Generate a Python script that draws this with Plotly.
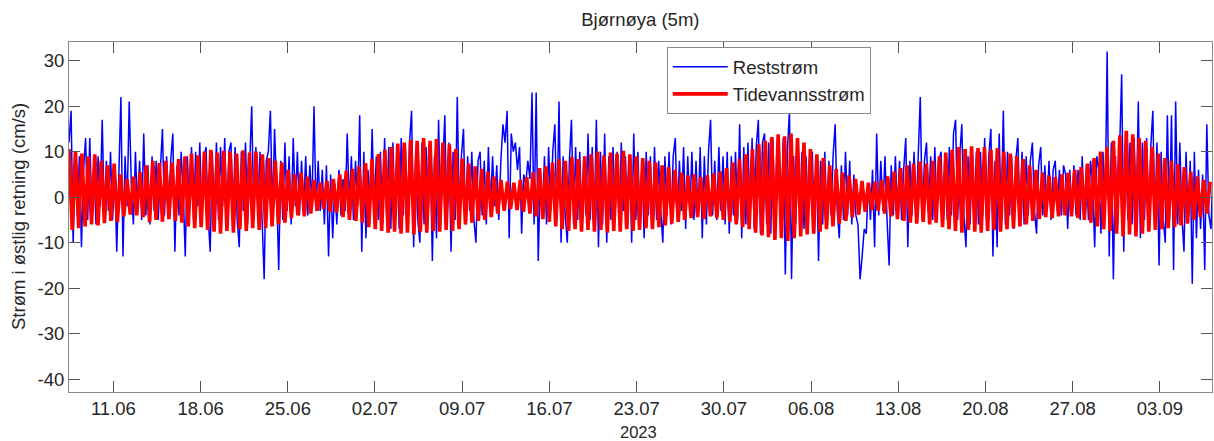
import pandas as pd
import plotly.graph_objects as go

title_text = "Bjørnøya (5m)"
y_label = "Strøm i østlig retning (cm/s)"
series_names = ["Reststrøm", "Tidevannsstrøm"]
year_label = "2023"

start_time = pd.Timestamp("2023-06-07 10:30")
end_time = pd.Timestamp("2023-09-07 04:30")
rest_step_hours = 4
tide_half_period_hours = 6.21

# Residual current (cm/s), 4-hourly samples (one row = one day)
rest_values = [
    12, 19, -10, 8, -4, 9,
    -11, 6, 13, -5, 13, -3,
    7, -6, 9, -2, 17, -4,
    8, -3, 10, -5, 6, -12,
    5, 22, -13, 9, -2, 21,
    3, -6, 10, -3, 8, -5,
    14, -4, 7, -6, 9, -3,
    8, -5, 6, 15, -4, 9,
    -2, 8, 14, -12, 7, -4,
    10, 1, -13, 9, -3, 11,
    -5, 10, -2, 12, -6, 9,
    11, -4, -12, 10, -3, 12,
    -5, 11, -2, 13, -6, 10,
    12, -4, 11, -5, -11, 10,
    -3, 12, -6, 9, 20, -4,
    11, -3, 10, -5, -18, 8,
    10, 19, -4, 15, 2, -16,
    8, -5, 12, -3, 9, -6,
    13, -2, 10, -4, 8, -3,
    9, -4, 7, -2, 20, -3,
    8, -3, 6, -6, 7, -13,
    5, -9, 3, -6, 6, -4,
    4, -3, 14, -2, 9, -5,
    8, -2, 18, -12, 10, -9,
    6, -4, 15, -3, 9, -5,
    10, -6, 13, -4, 11, -7,
    12, -5, 10, -7, 13, -4,
    11, -6, 12, 19, -11, 10,
    -5, -10, 12, -6, 11, -4,
    10, -14, 9, -9, 17, -5,
    8, 18, -6, 12, -12, 10,
    -5, 22, -4, 9, 15, -6,
    9, -3, 10, -5, -10, 8,
    10, -4, 8, -6, 11, -3,
    9, -2, 7, -5, 8, 16,
    12, 19, -9, 14, 10, 12,
    6, 11, -8, 5, 3, 8,
    4, 23, -6, 23, -14, 5,
    -4, 9, -6, 11, -3, 10,
    16, -5, 21, -10, 9, -4,
    -10, 8, 17, -6, 11, -5,
    10, -6, 9, -4, 14, -5,
    11, -4, 17, -11, 10, -6,
    14, -10, 9, -5, 11, -4,
    10, -6, 12, -3, 9, -7,
    9, -10, 14, -5, 10, -6,
    8, -9, 10, -4, 9, -6,
    11, -5, 8, -3, -10, 9,
    -4, 10, -6, 9, 13, -5,
    8, -3, 11, -7, 9, -4,
    10, -5, 8, -4, 11, -9,
    9, -6, 10, 17, -4, 8,
    -5, 11, -3, 9, -6, 10,
    -8, 9, -4, 10, -5, 16,
    -9, 11, -6, 12, -5, 13,
    -7, 11, 17, -8, 12, 14,
    -6, 12, -8, 13, -7, 11,
    12, -6, 13, -17, 10, 19,
    -18, 9, -6, 12, -5, 10,
    -7, 9, -5, 8, 10, -8,
    9, -14, 8, -6, 10, -5,
    8, -4, 9, 16, -3, -9,
    7, -5, 10, -4, 8, -6,
    5, -4, -6, -18, -13, -7,
    -8, 3, -5, 6, -11, 14,
    -4, 8, -3, 9, -5, -15,
    7, -4, 9, -3, 8, -5,
    6, 13, -11, 8, -4, 10,
    -4, 9, 22, -5, 8, 12,
    -3, 9, -5, 11, -4, 8,
    10, -6, 8, -5, 11, -4,
    14, 17, -5, 9, 16, -4,
    -11, 9, -6, 11, -5, 10,
    -6, 10, -4, 13, -7, 9,
    15, -13, 8, -11, 14, -5,
    19, -6, 10, -4, 9, -7,
    8, 13, -5, 10, -6, 9,
    -4, 8, 12, -3, -8, 7,
    11, -4, 7, -3, 8, -5,
    6, 8, -3, 6, -4, 7,
    5, -7, 6, -3, 7, -4,
    6, -5, 9, -4, 7, -5,
    8, 3, -11, 9, 6, -8,
    10, -4, 32, -13, 12, -18,
    9, -6, 11, 27, -12, 10,
    -5, 12, -6, 13, -4, 21,
    -9, 12, -5, 13, -7, 11,
    19, -6, 12, -15, 10, -5,
    -10, 18, -5, 18, -16, 21,
    -6, 12, -4, -12, 10, -5,
    8, -19, 10, -9, 6, -7,
    5, -16, 16, -4, -7, 6,
]

# Tidal current (cm/s): successive eastward maxima and westward minima
tide_highs = [
    10.6, 10, 9.6, 9, 9.4, 8, 7, 7.4, 5, 4, 4.5, 5.5,
    7, 8, 7.5, 8, 7.6, 8.4, 9, 9.6, 9.2, 10,
    10.4, 9.8, 10.2, 10, 9.6, 10.3, 9.8, 10, 9.4,
    8.6, 8, 7.6, 6, 5, 5.4, 4.5, 3.8, 3.2, 3.6, 4,
    5, 5.8, 6.2, 6.8, 7.5, 8.4,
    9.5, 10.4, 11, 11.8, 12, 12.6, 12.4, 13, 12.4, 12.8, 12, 11.6, 10.6,
    8.5, 7.4, 6.8, 6.2, 5.6, 4.5, 3.8, 3.4, 3.2, 3.8, 4.4,
    5.5, 6.4, 6.8, 7.6, 8.4, 8, 8.8, 8.4, 9,
    9.4, 10, 9.2, 9.8, 9.6, 10.2, 9.4, 9, 8.6,
    8, 7.6, 7, 6.6, 6, 5.4, 4.8, 5, 4.4, 4.8, 5.2, 5.6, 6.4,
    7.6, 8.4, 9.4, 10.6, 11.6, 12.4, 13.2, 13.8, 13.4, 14, 13, 12,
    10.6, 9.4, 8.6, 7, 6.2, 5.4, 4.8, 4, 3.6, 3.2, 3.4, 3.8, 4.6,
    5.6, 6.4, 7, 7.4, 7.8, 7.4, 8,
    9, 9.8, 10.4, 11, 10.6, 11.2, 10.8, 11, 10.4, 10.8, 10,
    9.6, 9, 8.4, 7, 6, 5.4, 4.8, 4.4, 5, 5.4, 6, 6.6, 7.4,
    8.6, 10, 11, 12.4, 13.6, 14.6, 13.8, 13, 12.4, 11,
    9.6, 8.6, 8, 7.2, 6.6, 5.6, 4.6, 3.8, 3.4,
]
tide_lows = [
    -7.2, -6.8, -6.4, -6, -6.2, -5.7, -5.2, -5.5, -4.2, -3.8, -4, -4.4,
    -5.5, -5, -5.4, -4.8, -5.2, -5.6, -6.4, -6.8, -6.6, -7.2,
    -7.6, -8, -7.4, -7.8, -7, -7.4, -6.8, -7.2, -6.8,
    -6.4, -6, -5.6, -4.6, -4, -4.2, -3.6, -3, -2.6, -3.2, -3.4,
    -4.4, -5, -5.2, -5.6, -6.6, -7,
    -7.4, -7.8, -7.6, -8, -7.8, -8.2, -7.6, -7.8, -7.4, -7.6, -7.2, -7.4, -7,
    -6, -5.6, -5.2, -5, -4.4, -3.6, -3, -2.6, -2.8, -3.2, -3.6,
    -4.2, -4.8, -5.4, -6.4, -7, -7.4, -7, -7.6, -7.2,
    -7.6, -7.2, -7.8, -7.4, -7.6, -7, -7.4, -7.2, -6.8,
    -7, -6.6, -6.2, -5.8, -5.4, -5, -4.6, -4.4, -4.8, -4.2, -4.6, -5, -5.4,
    -6, -6.6, -7, -7.8, -8.4, -8.8, -9.4, -9, -9.6, -9, -8.6, -8.2,
    -8, -7.6, -7, -6.4, -5.8, -5.2, -4.4, -3.8, -3.2, -2.8, -3, -3.6, -4.2,
    -4.8, -5.2, -5.6, -5.8, -5.4, -6, -5.6,
    -6.6, -7, -7.4, -7.8, -7.2, -7.6, -7.8, -7.4, -7.2, -7.6, -7,
    -6.8, -6.4, -6, -5.2, -4.8, -4.4, -4.6, -4.2, -4, -4.2, -4.6, -5, -5.6,
    -6.4, -7, -7.4, -8, -8.6, -8.2, -8.6, -8, -7.6, -7.2,
    -7, -6.8, -6.6, -6.2, -5.8, -5, -4.4, -3.6,
]

x_tick_dates = ["2023-06-11", "2023-06-18", "2023-06-25", "2023-07-02", "2023-07-09",
                "2023-07-16", "2023-07-23", "2023-07-30", "2023-08-06", "2023-08-13",
                "2023-08-20", "2023-08-27", "2023-09-03"]
x_tick_labels = ["11.06", "18.06", "25.06", "02.07", "09.07", "16.07", "23.07",
                 "30.07", "06.08", "13.08", "20.08", "27.08", "03.09"]
y_tick_values = [-40, -30, -20, -10, 0, 10, 20, 30]
y_tick_labels = ["-40", "-30", "-20", "-10", "0", "10", "20", "30"]
y_range = [-42.8, 34.1]

# --- build time axes ---
rest_times = [start_time + pd.Timedelta(hours=rest_step_hours * i) for i in range(len(rest_values))]
tide_pts = []
for k, v in enumerate(tide_highs):
    tide_pts.append((start_time + pd.Timedelta(hours=2 * k * tide_half_period_hours), v))
for k, v in enumerate(tide_lows):
    tide_pts.append((start_time + pd.Timedelta(hours=(2 * k + 1) * tide_half_period_hours), v))
tide_pts.sort(key=lambda p: p[0])
tide_times = [p[0] for p in tide_pts]
tide_vals = [p[1] for p in tide_pts]

font_family = "Liberation Sans, Arial, sans-serif"
fs = 18.5
text_color = "#262626"
axis_color = "#8a8a8a"
tick_color = "#555555"

fig = go.Figure()
fig.add_trace(go.Scatter(x=rest_times, y=rest_values, mode="lines", name=series_names[0],
                         line=dict(color="#0000FF", width=1.5)))
fig.add_trace(go.Scatter(x=tide_times, y=tide_vals, mode="lines", name=series_names[1],
                         line=dict(color="#FF0000", width=3.6)))

axis_common = dict(showline=True, linecolor=axis_color, linewidth=1, mirror="ticks",
                   ticks="inside", ticklen=11, tickcolor=tick_color, tickwidth=1,
                   showgrid=False, zeroline=False,
                   tickfont=dict(family=font_family, size=fs, color=text_color))

fig.update_layout(
    width=1214, height=441,
    margin=dict(l=69, r=2, t=42, b=49),
    paper_bgcolor="white", plot_bgcolor="white",
    font=dict(family=font_family, size=fs, color=text_color),
    title=dict(text=title_text, x=0.5275, xanchor="center", y=1 - 20 / 441, yanchor="middle",
               font=dict(family=font_family, size=fs, color=text_color)),
    xaxis=dict(type="date", range=[start_time, end_time],
               tickvals=[pd.Timestamp(d) for d in x_tick_dates], ticktext=x_tick_labels,
               **axis_common),
    yaxis=dict(range=y_range, tickvals=y_tick_values, ticktext=y_tick_labels, **axis_common),
    legend=dict(x=0.523, y=0.985, xanchor="left", yanchor="top", bgcolor="white",
                bordercolor=axis_color, borderwidth=1, itemwidth=55,
                font=dict(family=font_family, size=fs, color=text_color)),
    showlegend=True,
    annotations=[
        dict(text=year_label, xref="paper", yref="paper", x=0.4985, y=(392 - 432) / 350,
             xanchor="center", yanchor="middle", showarrow=False,
             font=dict(family=font_family, size=fs - 2, color=text_color)),
        dict(text=y_label, xref="paper", yref="paper", x=(18 - 69) / 1143, y=0.5,
             xanchor="center", yanchor="middle", textangle=-90, showarrow=False,
             font=dict(family=font_family, size=fs, color=text_color)),
    ],
)

fig.write_html("out.html")
